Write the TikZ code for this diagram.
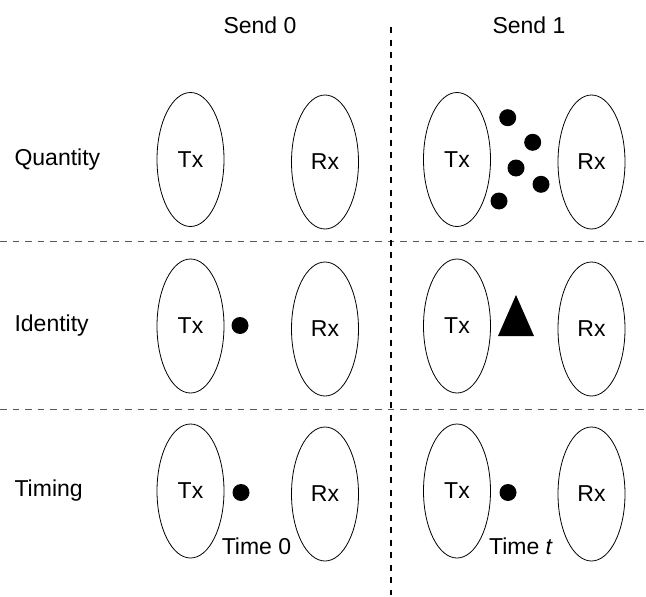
\documentclass[tikz,border=0pt]{standalone}
\usepackage{fontspec}
\setmainfont{Liberation Sans}
\usetikzlibrary{shapes.geometric}
\begin{document}
\begin{tikzpicture}[x=1pt,y=-1pt,
  every node/.style={font=\fontsize{23}{26}\selectfont},
  ell/.style={draw,ellipse,line width=0.8pt,minimum width=67pt,minimum height=134pt,inner sep=0pt},
  dot/.style={circle,fill=black,minimum size=17pt,inner sep=0pt},
  rowlab/.style={anchor=west},
  vdash/.style={line width=1.3pt,dash pattern=on 6pt off 6.5pt},
  hdash/.style={line width=1pt,black!65,dash pattern=on 6.5pt off 6pt}]
\useasboundingbox (0,0) rectangle (646,597);
% divider lines
\coordinate (vt) at (391,27);
\coordinate (vb) at (391,595);
\coordinate (h1l) at (0,241);
\coordinate (h1r) at (646,241);
\coordinate (h2l) at (0,409);
\coordinate (h2r) at (646,409);
\draw[hdash] (h1l) -- (h1r);
\draw[hdash] (h2l) -- (h2r);
\draw[vdash] (vt) -- (vb);
% headers
\node (s0) at (260,25) {Send 0};
\node (s1) at (529,25) {Send 1};
% row labels
\node[rowlab] (lq) at (11,160) {Quantity};
\node[rowlab] (li) at (11,326) {Identity};
\node[rowlab] (lt) at (11,491) {Timing};
% row 1
\node[ell] (tx1a) at (190.5,159.5) {Tx};
\node[ell] (rx1a) at (325,162) {Rx};
\node[ell] (tx1b) at (457,159.5) {Tx};
\node[ell] (rx1b) at (591.5,162) {Rx};
\node[dot] (q1) at (507.7,117.7) {};
\node[dot] (q2) at (532.7,142.3) {};
\node[dot] (q3) at (516,168) {};
\node[dot] (q4) at (541,184.3) {};
\node[dot] (q5) at (499,201) {};
% row 2
\node[ell] (tx2a) at (190.5,326) {Tx};
\node[ell] (rx2a) at (325,329) {Rx};
\node[ell] (tx2b) at (457,326) {Tx};
\node[ell] (rx2b) at (591.5,329) {Rx};
\node[dot] (d2) at (240,325.5) {};
\coordinate (ta) at (516,295);
\coordinate (tb) at (498,336);
\coordinate (tc) at (534,336);
\fill (ta) -- (tb) -- (tc) -- cycle;
% row 3
\node[ell] (tx3a) at (190.5,491) {Tx};
\node[ell] (rx3a) at (325,494) {Rx};
\node[ell] (tx3b) at (457,491) {Tx};
\node[ell] (rx3b) at (591.5,494) {Rx};
\node[dot] (d3a) at (241,492.5) {};
\node[dot] (d3b) at (508,492.5) {};
\node (t0) at (256.5,546) {Time 0};
\node (tt) at (521,546) {Time \textit{t}};
\end{tikzpicture}
\end{document}
